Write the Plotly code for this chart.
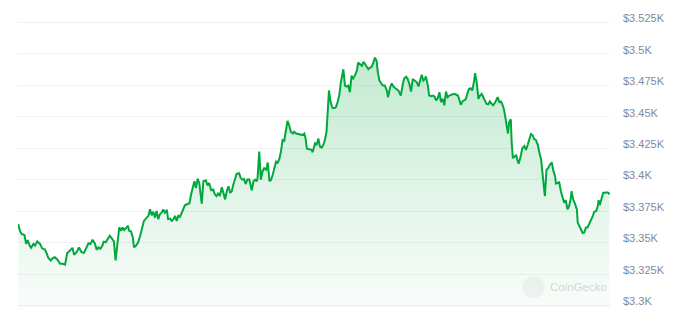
import plotly.graph_objects as go

# minutes since start of the 24h window
minutes = [0, 4, 8, 15, 19, 23, 27, 31, 37, 41, 46, 53, 58, 65, 69, 73, 79, 84, 89, 95,
           102, 108, 114, 119, 126, 132, 136, 142, 148, 154, 160, 165, 171, 176, 181, 187, 191, 195, 200, 205,
           208, 213, 219, 223, 229, 233, 237, 242, 246,
           250, 254, 258, 262, 267, 270, 275, 279, 282, 287, 292, 297, 301, 306, 313, 317, 321, 325, 329, 333,
           337, 341, 345, 349, 353, 357, 362, 365, 370, 374, 378, 382, 386, 390, 394, 398, 402, 406, 413, 417,
           421, 425, 429, 433, 437, 441, 447, 451, 457, 461, 465, 470, 475,
           479, 483, 487, 491, 496, 500, 504, 508, 512, 516, 520, 524, 528, 532, 538, 542, 546, 550, 554, 558,
           563, 566, 569, 573, 577, 581, 583, 587, 591, 595, 599, 604, 608, 612, 616, 620, 624, 628, 632, 636,
           640, 644, 648, 652, 656, 660, 664, 669, 672, 677, 682, 688, 693, 697, 700, 703, 707, 711, 715, 717, 720,
           723, 727, 731, 735, 739, 743, 747, 751, 754, 757, 761, 765, 770, 774, 778, 782, 786, 792, 796, 800,
           804, 808, 812, 816, 820, 825, 828, 833, 837, 841, 845, 849, 853, 857, 861, 865, 869, 873, 876, 880,
           884, 888, 893, 898, 901, 906, 910, 914, 918, 922, 926, 930, 932, 937, 940, 945, 949, 953, 957, 961, 965,
           971, 975, 979, 983, 987, 991, 993, 998, 1001, 1006, 1010, 1014, 1018, 1022, 1026, 1030, 1034, 1038,
           1042, 1046, 1050, 1054, 1058, 1062, 1066, 1071, 1074, 1078, 1082, 1086, 1090, 1094, 1098, 1102, 1106,
           1110, 1113, 1117, 1121, 1125, 1129, 1133, 1137, 1141, 1145, 1149, 1153, 1157, 1161, 1166, 1168, 1172,
           1176, 1179, 1183, 1186, 1190, 1193, 1196, 1200, 1202, 1205,
           1208, 1213, 1216, 1219, 1224, 1228, 1233, 1237, 1241, 1245, 1249, 1253, 1257, 1261, 1266, 1269, 1274,
           1278, 1282, 1283, 1287, 1291, 1295, 1300, 1303, 1308, 1310, 1314, 1318, 1322, 1326, 1330, 1334, 1338,
           1342, 1346, 1348, 1352, 1356, 1361, 1363, 1367, 1371, 1375, 1379, 1383, 1387, 1391, 1395, 1400, 1403,
           1408, 1412, 1414, 1417, 1421, 1425, 1430, 1434, 1438, 1440]

prices = [3364.6, 3359.4, 3356.8, 3356.0, 3348.9, 3352.0, 3348.1, 3345.8, 3348.9, 3347.6, 3350.9, 3348.9,
          3345.4, 3344.4, 3341.5, 3337.9, 3335.8, 3337.6, 3338.4, 3336.6, 3333.2, 3333.2, 3332.4, 3341.5, 3343.6,
          3345.8, 3340.3, 3342.3, 3346.2, 3342.3, 3341.8, 3345.0, 3349.4, 3348.9, 3352.3, 3348.9, 3344.2, 3346.2,
          3345.0, 3347.6, 3350.7, 3350.2, 3354.1, 3355.4, 3352.8, 3350.7, 3335.8, 3350.2, 3362.0,
          3359.4, 3362.0, 3359.9, 3361.5, 3363.3, 3359.4, 3358.8, 3354.1, 3346.2, 3347.6, 3350.2, 3355.4, 3360.7,
          3367.2, 3369.8, 3371.2, 3376.4, 3371.7, 3374.5, 3369.8, 3375.1, 3368.6, 3372.5, 3373.7, 3376.4, 3373.7,
          3375.9, 3368.6, 3369.0, 3367.2, 3368.6, 3371.2, 3367.2, 3371.2, 3370.4, 3373.7, 3376.9, 3379.6, 3380.8,
          3381.1, 3388.2, 3394.7, 3398.7, 3393.4, 3400.8, 3397.3, 3380.8, 3398.7, 3399.5, 3395.3, 3397.3, 3391.6,
          3392.1,
          3388.2, 3386.9, 3389.5, 3386.9, 3394.0, 3389.5, 3384.3, 3390.8, 3394.7, 3389.5, 3390.8, 3396.1, 3401.3,
          3404.7, 3405.2, 3401.3, 3400.0, 3400.5, 3396.5, 3400.0, 3400.0, 3396.1, 3391.4, 3398.7, 3400.0, 3398.7,
          3401.3, 3422.3, 3400.0, 3406.5, 3409.1, 3407.9, 3413.6, 3398.7, 3400.0, 3403.9, 3409.7, 3414.4, 3413.6,
          3416.2, 3422.3, 3431.5, 3430.9, 3438.0, 3446.6, 3443.2, 3438.0, 3436.6, 3438.0, 3436.6, 3436.2, 3435.9,
          3435.4, 3436.6, 3432.7, 3424.9, 3424.1, 3424.1, 3423.6, 3421.7, 3424.9,
          3428.8, 3427.5, 3432.7, 3426.2, 3425.4, 3427.5, 3431.5, 3438.0, 3452.4, 3470.8, 3461.6, 3457.1, 3456.8,
          3457.6, 3461.6, 3466.8, 3477.3, 3487.7, 3474.7, 3473.9, 3474.7, 3469.4, 3482.6, 3480.4, 3482.6, 3486.5,
          3493.0, 3491.7, 3490.4, 3493.6, 3491.7, 3489.6, 3487.7, 3489.1, 3489.6, 3493.0, 3496.9, 3494.4, 3485.2,
          3478.6, 3476.0, 3474.7, 3474.7, 3470.8, 3465.5, 3473.4, 3476.5, 3473.9, 3472.8, 3472.0, 3470.8, 3468.1,
          3466.8, 3476.0, 3480.4, 3481.8, 3479.9, 3476.0, 3470.0, 3479.9, 3478.6,
          3477.3, 3474.1, 3478.6, 3483.3, 3478.6, 3479.9, 3482.0, 3474.7, 3466.8, 3466.3, 3466.8, 3466.0, 3462.9,
          3464.7, 3469.4, 3461.6, 3464.2, 3459.0, 3470.0, 3465.5, 3466.8, 3467.3, 3467.6, 3468.1, 3467.6, 3466.8,
          3464.2, 3459.4, 3462.1, 3462.9, 3463.7, 3468.1, 3472.0, 3472.6, 3470.8, 3477.3, 3484.6, 3477.3, 3464.2,
          3466.8, 3468.1, 3465.5, 3462.1, 3460.2, 3459.8, 3462.1, 3460.2, 3459.0, 3460.8, 3463.4, 3465.5, 3461.6,
          3462.1, 3460.2, 3456.3, 3451.1, 3443.2, 3436.6, 3445.8, 3448.0, 3430.1, 3417.5,
          3417.8, 3419.7, 3415.7, 3412.6, 3418.3, 3424.9, 3426.7, 3423.6, 3427.5, 3432.7, 3436.2, 3435.4, 3432.2,
          3431.5, 3427.5, 3422.3, 3415.7, 3402.6, 3390.8, 3386.9, 3407.9, 3409.1, 3411.8, 3413.6, 3407.9, 3402.6,
          3396.9, 3397.3, 3397.9, 3390.8, 3386.9, 3381.6, 3383.7, 3376.4, 3379.0, 3384.8, 3390.8, 3384.3, 3381.1,
          3376.4, 3365.9, 3363.3, 3359.4, 3357.6, 3358.0, 3362.0, 3362.0, 3364.6, 3367.8, 3371.2, 3374.3, 3375.1,
          3379.0, 3383.7, 3379.8, 3384.8, 3389.5, 3389.5, 3390.0, 3389.5, 3388.2]

tick_values = [3300, 3325, 3350, 3375, 3400, 3425, 3450, 3475, 3500, 3525]
tick_labels = ["$3.3K", "$3.325K", "$3.35K", "$3.375K", "$3.4K", "$3.425K",
               "$3.45K", "$3.475K", "$3.5K", "$3.525K"]

LINE = "#00a83e"

fig = go.Figure()
fig.add_trace(go.Scatter(
    x=minutes, y=prices, mode="lines",
    line=dict(color=LINE, width=2),
    fill="tozeroy",
    fillgradient=dict(
        type="vertical", start=3300, stop=3500,
        colorscale=[[0, "rgba(0,168,62,0.02)"], [1, "rgba(0,168,62,0.24)"]],
    ),
    hoverinfo="skip",
))

# watermark
fig.add_shape(type="circle", xref="paper", yref="paper",
              xsizemode="pixel", ysizemode="pixel",
              xanchor=0.871, yanchor=0.0712,
              x0=-11, x1=11, y0=-11, y1=11,
              fillcolor="rgba(0,0,0,0.04)", line=dict(width=0), layer="above")
fig.add_annotation(text="CoinGecko", xref="paper", yref="paper",
                   x=0.8953, y=0.0712, xanchor="left", yanchor="middle",
                   showarrow=False,
                   font=dict(family="Liberation Sans, Arial, sans-serif", size=11.5, color="#d6d6d6"))

fig.update_layout(
    width=677, height=322,
    margin=dict(l=18, r=67, t=13, b=14),
    paper_bgcolor="white", plot_bgcolor="white",
    showlegend=False,
    hovermode=False,
    xaxis=dict(visible=False, range=[-0.7, 1441.7]),
    yaxis=dict(
        side="right", range=[3298, 3530],
        tickvals=tick_values, ticktext=tick_labels,
        showgrid=True, gridcolor="#f1f1f1", gridwidth=1,
        zeroline=False, showline=False, ticks="",
        ticklabelstandoff=12, ticklabelshift=-4,
        tickfont=dict(family="Liberation Sans, Arial, sans-serif", size=11, color="#808a9d"),
    ),
)

fig.write_html("out.html", config={"displayModeBar": False})
